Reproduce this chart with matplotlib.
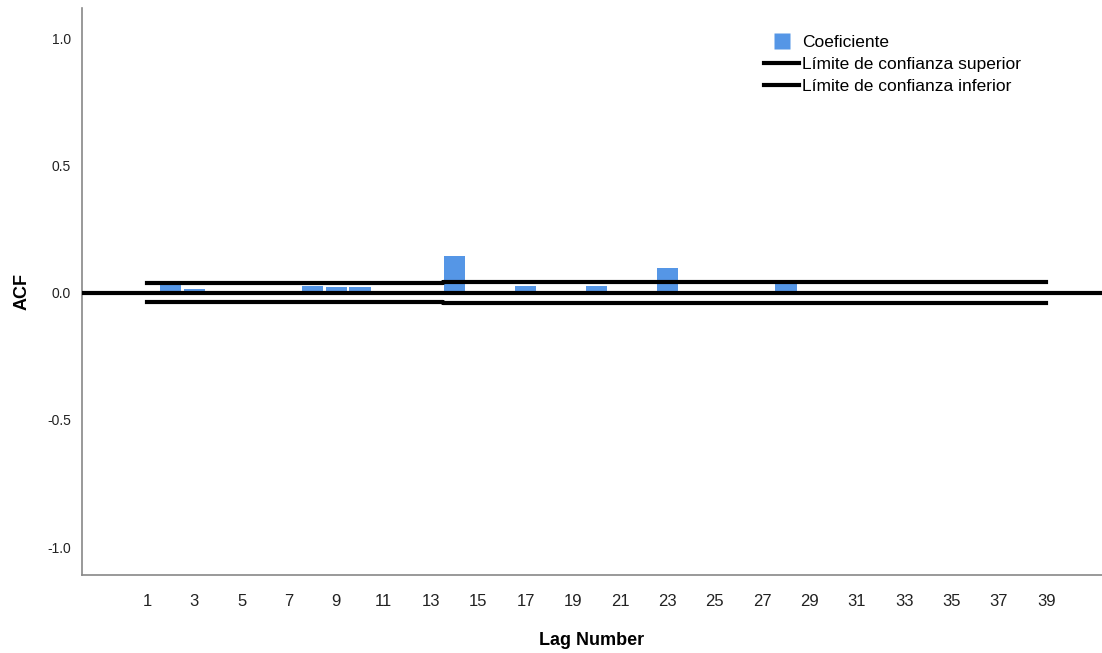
import numpy as np
import matplotlib
matplotlib.use('Agg')
import matplotlib.pyplot as plt
from matplotlib.lines import Line2D

plt.rcParams['font.family'] = ['Liberation Sans', 'DejaVu Sans']

# ACF values
lags = list(range(1, 40))
acf = [0.005, 0.038, 0.015, 0.0, 0.0, 0.008, 0.0, 0.027, 0.02, 0.02,
       0.0, 0.0, 0.005, 0.145, 0.0, 0.0, 0.025, 0.0, 0.0, 0.025,
       0.0, 0.0, 0.097, 0.0, 0.0, 0.0, 0.0, 0.04, 0.0, 0.0,
       0.0, 0.0, 0.0, 0.0, 0.0, 0.0, 0.0, 0.0, 0.0]
upper = [0.039] * 13 + [0.040] * 26
lower = [-0.039] * 13 + [-0.040] * 26
yticks = [-1.0, -0.5, 0.0, 0.5, 1.0]
xticks = list(range(1, 40, 2))

fig = plt.figure(figsize=(11.02, 6.53), dpi=100)
ax = fig.add_axes([0.0744, 0.1194, 0.9256, 0.8683])

ax.bar(lags, acf, width=0.9, color='#5596e6', zorder=2)
ax.step(lags, upper, where='mid', color='black', lw=3, zorder=3)
ax.step(lags, lower, where='mid', color='black', lw=3, zorder=3)
ax.axhline(0, color='black', lw=3, zorder=3)

ax.set_xlim(-1.75, 41.36)
ax.set_ylim(-1.11, 1.118)
ax.set_xticks(xticks)
ax.set_xticklabels([str(x) for x in xticks], fontsize=12, color='#222222')
ax.set_yticks(yticks)
ax.set_yticklabels(['-1.0', '-0.5', '0.0', '0.5', '1.0'], fontsize=10, color='#222222')
ax.tick_params(length=0, pad=14, axis='x')
ax.tick_params(length=0, pad=8, axis='y')

for s in ['top', 'right']:
    ax.spines[s].set_visible(False)
for s in ['left', 'bottom']:
    ax.spines[s].set_color('#888888')
    ax.spines[s].set_linewidth(1.2)

ax.set_ylabel('ACF', fontsize=13, fontweight='bold', labelpad=12)
ax.set_xlabel('Lag Number', fontsize=13, fontweight='bold', labelpad=16)

handles = [Line2D([0], [0], color='none', marker='s', markersize=12,
                  markerfacecolor='#5596e6', markeredgecolor='none'),
           Line2D([0], [0], color='black', lw=3),
           Line2D([0], [0], color='black', lw=3)]
labels = ['Coeficiente', 'Límite de confianza superior', 'Límite de confianza inferior']
ax.legend(handles, labels, loc='upper left', bbox_to_anchor=(0.662, 0.965),
          frameon=False, fontsize=12.5, handlelength=2.0, handletextpad=0.2,
          labelspacing=0.4, borderaxespad=0)

fig.savefig('out.png', dpi=100)
